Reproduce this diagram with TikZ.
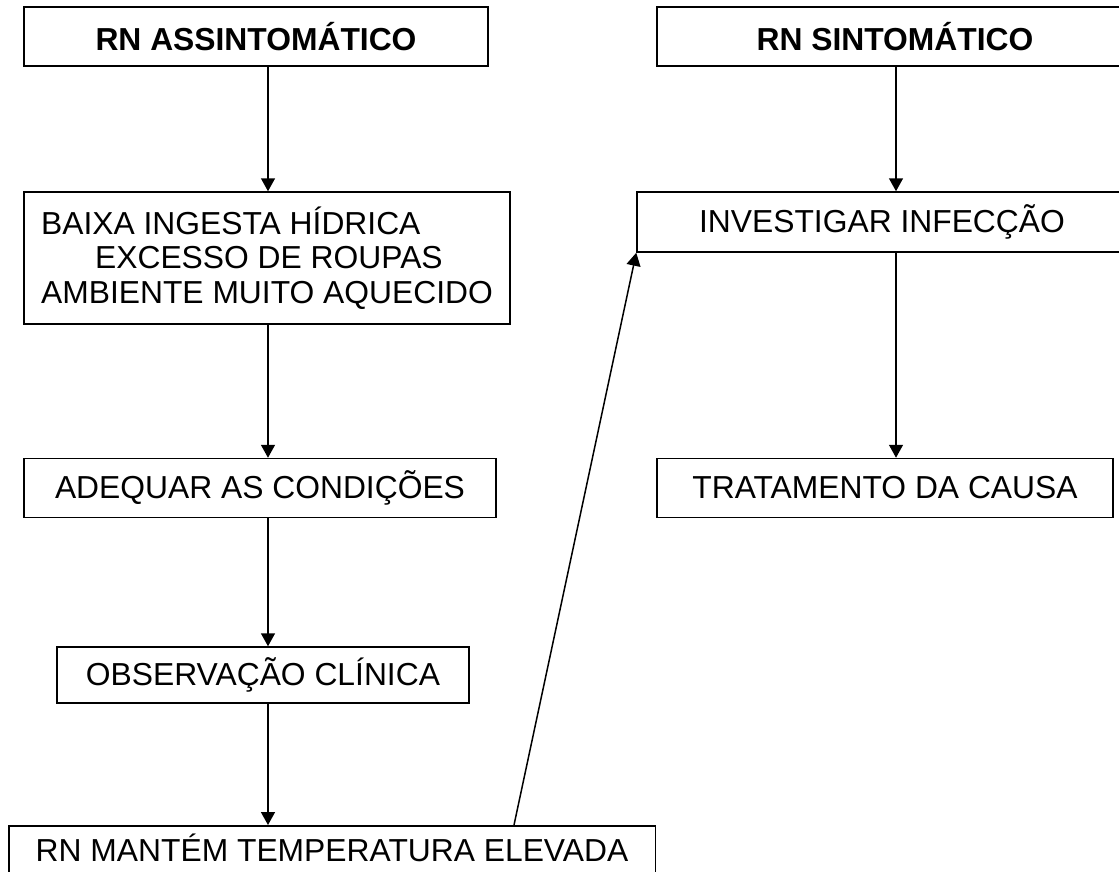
\documentclass[tikz,border=0pt]{standalone}
\usepackage{fontspec}
\setmainfont{Liberation Sans}
\usetikzlibrary{arrows.meta}

\tikzset{
  box/.style={draw, line width=0.75pt, inner sep=0pt, minimum height=29.5pt,
    font=\fontsize{15.9}{17.25}\selectfont},
  headbox/.style={box, font=\fontsize{15.9}{17.25}\selectfont\bfseries},
}

\begin{document}
\begin{tikzpicture}[x=0.5pt, y=-0.5pt, line width=0.75pt, >={Triangle[length=6.5pt,width=7pt]}]

\useasboundingbox (0,0) rectangle (1119,872);

\coordinate (colL) at (268,0);
\coordinate (colR) at (896,0);
\coordinate (up) at (514,0);

\node[headbox, minimum width=232pt] (a1) at (256,36.5) {RN ASSINTOMÁTICO};
\node[headbox, minimum width=238pt] (b1) at (895,36.5) {RN SINTOMÁTICO};

\node[box, minimum width=243pt, minimum height=66pt, align=left] (a2) at (267,258)
  {BAIXA INGESTA HÍDRICA\\\hspace*{27pt}EXCESSO DE ROUPAS\\AMBIENTE MUITO AQUECIDO};
\node[box, minimum width=245pt, minimum height=30pt] (b2) at (882,222) {INVESTIGAR INFECÇÃO};

\node[box, minimum width=236pt] (a3) at (260,488) {ADEQUAR AS CONDIÇÕES};
\node[box, minimum width=228pt] (b3) at (885,488) {TRATAMENTO DA CAUSA};

\node[box, minimum width=206pt, minimum height=28pt] (a5) at (263,675) {OBSERVAÇÃO CLÍNICA};

\node[box, anchor=north west, inner xsep=13.5pt, inner ysep=6.5pt, minimum height=0pt,
  text height=11.5pt, text depth=3pt] (a7) at (8,825) {RN MANTÉM TEMPERATURA ELEVADA};

\foreach \p/\q in {a1/a2,a2/a3,a3/a5,a5/a7}
  \draw[->] (\p.south -| colL) -- (\q.north -| colL);
\foreach \p/\q in {b1/b2,b2/b3}
  \draw[->] (\p.south -| colR) -- (\q.north -| colR);

\draw[->] (a7.north -| up) -- (b2.south west);

\end{tikzpicture}
\end{document}
